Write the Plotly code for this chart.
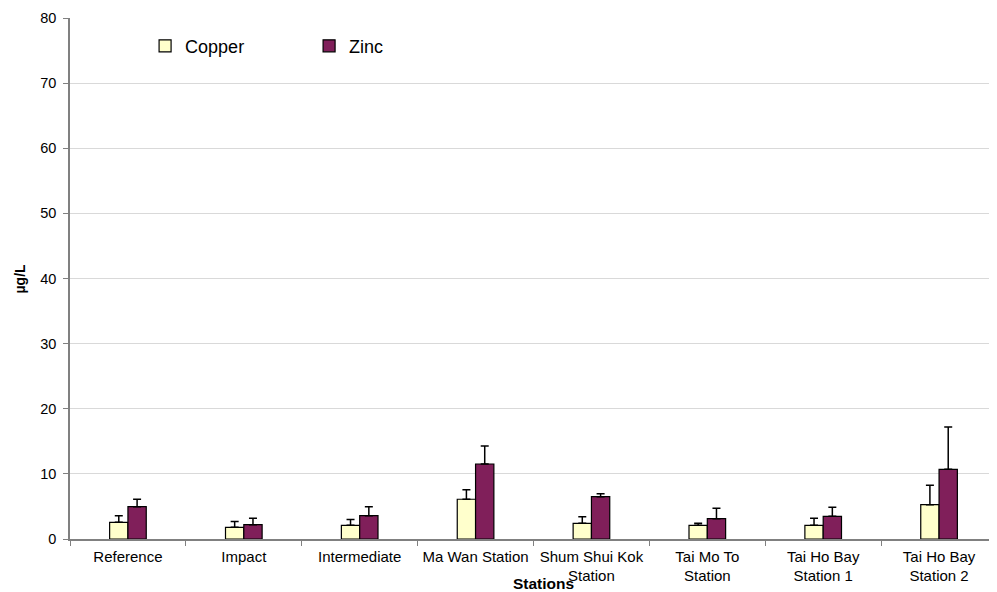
import plotly.graph_objects as go

stations = ["Reference", "Impact", "Intermediate", "Ma Wan Station",
            "Shum Shui Kok<br>Station", "Tai Mo To<br>Station",
            "Tai Ho Bay<br>Station 1", "Tai Ho Bay<br>Station 2"]
copper = [2.56, 1.79, 2.1, 6.1, 2.4, 2.1, 2.1, 5.27]
copper_err = [1.02, 0.91, 0.9, 1.48, 1.03, 0.3, 1.07, 2.97]
zinc = [4.96, 2.2, 3.58, 11.52, 6.5, 3.12, 3.48, 10.7]
zinc_err = [1.14, 0.97, 1.38, 2.76, 0.46, 1.59, 1.38, 6.5]

font = "Liberation Sans, Arial, sans-serif"

fig = go.Figure()
fig.add_trace(go.Bar(
    name="Copper", x=stations, y=copper,
    marker=dict(color="#FFFFCC", line=dict(color="black", width=1.2)),
    error_y=dict(type="data", array=copper_err, arrayminus=[0]*8, symmetric=False,
                 color="black", thickness=1.5, width=4),
))
fig.add_trace(go.Bar(
    name="Zinc", x=stations, y=zinc,
    marker=dict(color="#801F5A", line=dict(color="black", width=1.2)),
    error_y=dict(type="data", array=zinc_err, arrayminus=[0]*8, symmetric=False,
                 color="black", thickness=1.5, width=4),
))

fig.update_layout(
    width=989, height=584,
    margin=dict(l=62, r=0, t=10, b=53),
    paper_bgcolor="white", plot_bgcolor="white",
    barmode="group", bargap=0.684, bargroupgap=0,
    font=dict(family=font, size=15, color="black"),
    showlegend=True,
    legend=dict(orientation="h", x=0.081, y=0.946, xanchor="left", yanchor="middle",
                font=dict(size=18), entrywidth=119, itemwidth=30,
                bgcolor="rgba(0,0,0,0)"),
    xaxis=dict(
        showline=True, linecolor="#808080", linewidth=1.5,
        ticks="outside", tickson="boundaries", ticklen=5, tickcolor="#808080",
        tickfont=dict(size=15), ticklabelstandoff=3,
    ),
    yaxis=dict(
        range=[0, 80], dtick=10,
        showline=True, linecolor="#808080", linewidth=1.5,
        ticks="outside", ticklen=5, tickcolor="#808080",
        showgrid=True, gridcolor="#D9D9D9", gridwidth=1,
        zeroline=False,
        tickfont=dict(size=14.5), ticklabelstandoff=4,
    ),
    annotations=[
        dict(text="<b>Stations</b>", xref="paper", yref="paper", x=0.511, y=-0.085,
             xanchor="center", yanchor="middle", showarrow=False, font=dict(size=15.5)),
        dict(text="<b>µg/L</b>", xref="paper", yref="paper", x=-0.054, y=0.5,
             xanchor="center", yanchor="middle", textangle=-90, showarrow=False,
             font=dict(size=14)),
    ],
)

fig.write_html("out.html")
